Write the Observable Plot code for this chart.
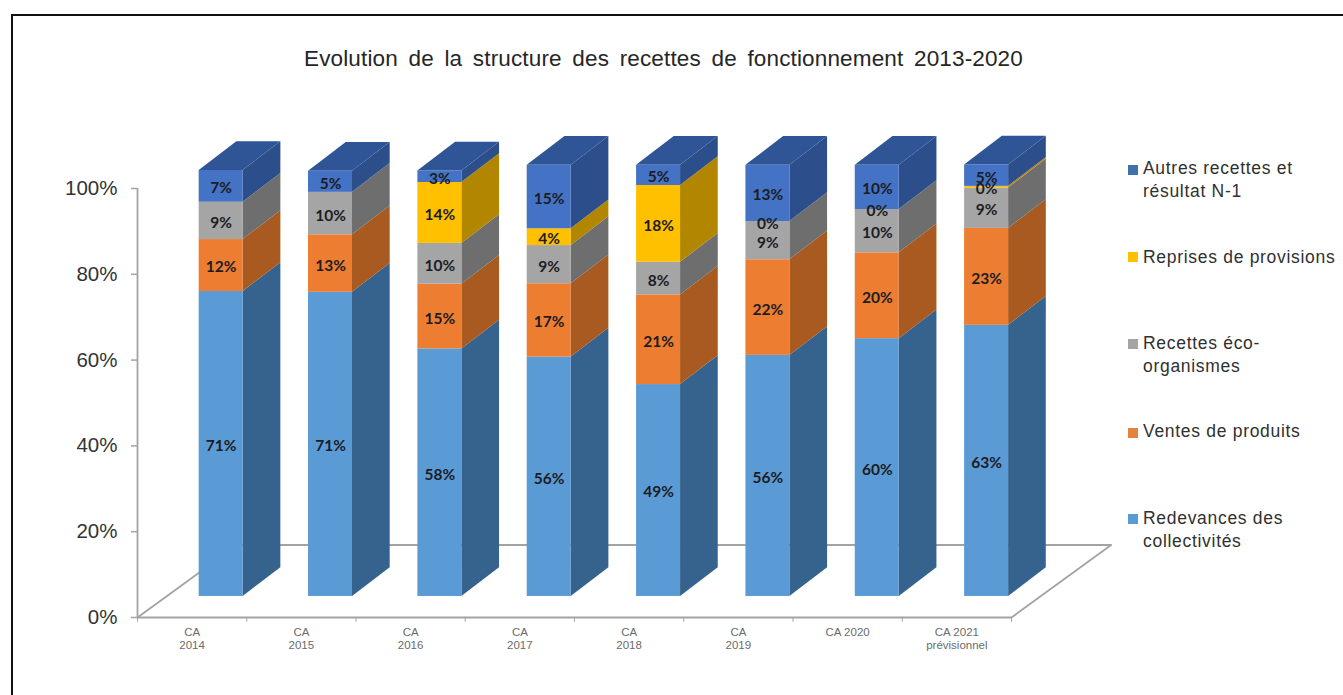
<!DOCTYPE html>
<html lang="fr">
<head>
<meta charset="utf-8">
<script src="https://cdn.jsdelivr.net/npm/d3@7"></script>
<script src="https://cdn.jsdelivr.net/npm/@observablehq/plot@0.6"></script>
<style>
  html, body { margin: 0; padding: 0; background: #fff; overflow: hidden; }
  #page { position: relative; width: 1343px; height: 695px; overflow: hidden; }
  #frame { position: absolute; left: 11px; top: 14px; width: 1400px; height: 800px; border: 2px solid #111; box-sizing: border-box; }
  #page svg { position: absolute; left: 0; top: 0; background: transparent; }
  #title { position: absolute; left: 304px; top: 46px; font: 22.5px "Liberation Sans", Arial, sans-serif; color: #262626; white-space: nowrap; word-spacing: 4.2px; letter-spacing: .15px; }
  .legend-item { position: absolute; left: 1143px; font: 17.5px/23px "Liberation Sans", Arial, sans-serif; color: #303030; letter-spacing: .7px; white-space: pre; }
  .legend-swatch { position: absolute; left: -15px; width: 10px; height: 10px; }
</style>
</head>
<body>
<div id="page">
  <div id="frame"></div>
  <div id="title">Evolution de la structure des recettes de fonctionnement 2013-2020</div>
  <div id="chart"></div>
  <div id="legend"></div>
</div>
<script>
const categories = ["CA\n2014", "CA\n2015", "CA\n2016", "CA\n2017", "CA\n2018", "CA\n2019", "CA 2020", "CA 2021\nprévisionnel"];
const redevances = [71.1, 70.9, 57.7, 55.8, 49.4, 56.2, 60.1, 63.2];
const ventes     = [12.1, 13.4, 15.1, 17.1, 20.9, 22.3, 20.0, 22.6];
const ecoOrg     = [8.7, 9.9, 9.5, 8.9, 7.6, 8.9, 10.1, 9.4];
const reprises   = [null, null, 14.2, 3.9, 17.9, 0, 0, 0.4];
const autres     = [7.4, 4.9, 2.7, 14.8, 4.7, 13.1, 10.3, 5.0];
const yTicks = [0, 20, 40, 60, 80, 100];

const seriesNames = ["Redevances des\ncollectivités", "Ventes de produits", "Recettes éco-\norganismes", "Reprises de provisions", "Autres recettes et\nrésultat N-1"];
const seriesValues = [redevances, ventes, ecoOrg, reprises, autres];
const frontColors = ["#5b9bd5", "#ed7d31", "#a5a5a5", "#ffc000", "#4472c4"];
const sideColors  = ["#36638e", "#a85a20", "#6e6e6e", "#b38600", "#2c4f8c"];
const topColor = "#2f5597";
const legendSwatches = ["#5b9bd5", "#e2843f", "#a5a5a5", "#ffc000", "#3f72aa"];
const legendTops = [507, 420, 332, 246, 157];
const legendSwatchOffsets = [7, 8, 7, 6, 8];

// Pseudo-3D geometry, in the units of the x (category) and y (percent) scales
const barStart = 0.5645, barStep = 1.0009, barWidth = 0.4026;
const depthX = 0.345, depthY = 6.7, baseLift = 4.9;
const wallX = 0.912, wallY = 16.9;

const fronts = [], sides = [], tops = [];
categories.forEach((c, i) => {
  const x1 = barStart + i * barStep, x2 = x1 + barWidth;
  let cum = baseLift;
  seriesValues.forEach((vals, s) => {
    const v = vals[i];
    if (v == null) return;
    const y1 = cum, y2 = cum + v;
    cum = y2;
    fronts.push({x1, x2, y1, y2, fill: frontColors[s], v});
    const key = i + "-" + s;
    sides.push({key, x: x2, y1, y2, fill: sideColors[s]});
    sides.push({key, x: x2 + depthX, y1: y1 + depthY, y2: y2 + depthY, fill: sideColors[s]});
  });
  tops.push({key: i, y: cum, x1, x2});
  tops.push({key: i, y: cum + depthY, x1: x1 + depthX, x2: x2 + depthX});
});

const floor = [
  {x: 0, y: 0},
  {x: wallX, y: wallY},
  {x: categories.length + wallX, y: wallY},
  {x: categories.length, y: 0}
];

const axisColor = "#a3a3a3";
const chart = Plot.plot({
  width: 1343,
  height: 695,
  marginLeft: 137,
  marginRight: 332,
  marginTop: 188,
  marginBottom: 78,
  style: {fontFamily: "'Liberation Sans', Arial, sans-serif", overflow: "visible"},
  x: {domain: [0, categories.length], axis: null},
  y: {domain: [0, 100], axis: null},
  color: {type: "identity"},
  marks: [
    Plot.line(floor, {x: "x", y: "y", stroke: axisColor, strokeWidth: 1.8}),
    Plot.ruleY([0], {x1: 0, x2: categories.length, stroke: axisColor, strokeWidth: 1.8}),
    Plot.ruleX([0], {y1: 0, y2: 100, stroke: axisColor, strokeWidth: 1.8}),
    Plot.ruleX(d3.range(categories.length + 1), {y1: 0, y2: -1.1, stroke: axisColor, strokeWidth: 1}),
    Plot.axisY(yTicks, {
      anchor: "left", label: null, tickSize: 6, tickPadding: 14,
      tickFormat: d => d + "%", stroke: axisColor, strokeWidth: 1.5, fill: "#333", fontSize: 20.5
    }),
    Plot.text(categories, {
      x: (d, i) => i + 0.5, y: 0, text: d => d, dy: 9, lineAnchor: "top",
      fontSize: 11.5, lineHeight: 1.16, fill: "#6b6b6b"
    }),
    Plot.areaY(sides, {x: "x", y1: "y1", y2: "y2", z: "key", fill: "fill"}),
    Plot.areaX(tops, {y: "y", x1: "x1", x2: "x2", z: "key", fill: topColor}),
    Plot.rect(fronts, {x1: "x1", x2: "x2", y1: "y1", y2: "y2", fill: "fill"}),
    Plot.text(fronts, {
      x: d => (d.x1 + d.x2) / 2, y: d => (d.y1 + d.y2) / 2, dy: 2,
      text: d => Math.round(d.v) + "%",
      fontFamily: "Lato, 'Open Sans', sans-serif", fontWeight: 700, fontSize: 15.5, fill: "#1c1c24"
    })
  ]
});
document.getElementById("chart").append(chart);

const legend = document.getElementById("legend");
seriesNames.forEach((name, s) => {
  const item = document.createElement("div");
  item.className = "legend-item";
  item.style.top = legendTops[s] + "px";
  item.textContent = name;
  const sw = document.createElement("span");
  sw.className = "legend-swatch";
  sw.style.background = legendSwatches[s];
  sw.style.top = legendSwatchOffsets[s] + "px";
  item.append(sw);
  legend.append(item);
});
</script>
</body>
</html>
